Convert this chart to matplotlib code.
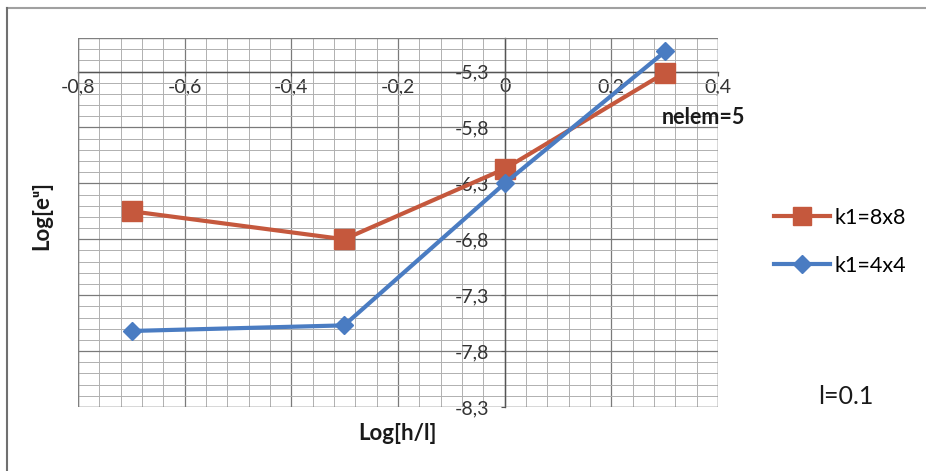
import matplotlib
matplotlib.use("Agg")
import matplotlib.pyplot as plt
from matplotlib.ticker import MultipleLocator, FixedLocator
from matplotlib.lines import Line2D
from matplotlib.patches import Rectangle

log_h_l = [-0.699, -0.301, 0.0, 0.301]
k1_8x8 = [-6.55, -6.80, -6.17, -5.31]
k1_4x4 = [-7.62, -7.57, -6.30, -5.12]
x_ticks = [-0.8, -0.6, -0.4, -0.2, 0.0, 0.2, 0.4]
x_tick_labels = ["-0,8", "-0,6", "-0,4", "-0,2", "0", "0,2", "0,4"]
y_ticks = [-5.3, -5.8, -6.3, -6.8, -7.3, -7.8, -8.3]
y_tick_labels = ["-5,3", "-5,8", "-6,3", "-6,8", "-7,3", "-7,8", "-8,3"]

RED = "#C5583D"
BLUE = "#4A7CC2"
FAM = ["Lato", "DejaVu Sans"]
plt.rcParams['font.family'] = FAM

fig = plt.figure(figsize=(9.26, 4.71), dpi=100)
ax = fig.add_axes([78/926, 1-407/471, (718-78)/926, (407-38)/471])
ax.set_xlim(-0.8, 0.4)
ax.set_ylim(-8.3, -5.0)

# grid
ax.xaxis.set_minor_locator(MultipleLocator(0.04))
ax.yaxis.set_minor_locator(MultipleLocator(0.1))
ax.xaxis.set_major_locator(FixedLocator(x_ticks))
ax.yaxis.set_major_locator(FixedLocator(y_ticks))
ax.grid(which='major', color='#7a7a7a', linewidth=0.9)
ax.grid(which='minor', color='#b0b0b0', linewidth=0.7)
ax.set_axisbelow(True)

# axes crossing
ax.spines['left'].set_position(('data', 0))
ax.spines['bottom'].set_position(('data', -5.3))
for s in ['top', 'right']:
    ax.spines[s].set_visible(False)
for s in ['left', 'bottom']:
    ax.spines[s].set_color('#555555')
    ax.spines[s].set_linewidth(1.0)
ax.add_patch(Rectangle((0, 0), 1, 1, transform=ax.transAxes, fill=False,
                       edgecolor='#808080', linewidth=1.0, zorder=3))

ax.set_xticks(x_ticks)
ax.set_xticklabels(x_tick_labels)
ax.set_yticks(y_ticks)
ax.set_yticklabels(y_tick_labels)
ax.tick_params(axis='both', which='major', length=3, color='#555555',
               labelsize=14, labelcolor='#333333', direction='out')
ax.tick_params(axis='y', pad=8)
ax.tick_params(axis='x', pad=2)
ax.tick_params(which='minor', length=0)

ax.plot(log_h_l, k1_8x8, color=RED, linewidth=3, marker='s', markersize=14,
        label='k1=8x8', zorder=4)
ax.plot(log_h_l, k1_4x4, color=BLUE, linewidth=3, marker='D', markersize=9,
        label='k1=4x4', zorder=5)

# texts
fig.text(703/926, 1-117/471, 'nelem=5', fontsize=15.5, fontweight='bold',
         ha='center', va='center', color='#1a1a1a')
fig.text(398/926, 1-433/471, 'Log[h/l]', fontsize=16, fontweight='bold',
         ha='center', va='center', color='#1a1a1a')
fig.text(42/926, 1-215/471, 'Log[e\u1d58]', fontsize=16, fontweight='bold',
         rotation=90, ha='center', va='center', color='#1a1a1a')
fig.text(846/926, 1-397/471, 'l=0.1', fontsize=18, ha='center', va='center',
         color='#1a1a1a')

handles = [Line2D([], [], color=RED, linewidth=3, marker='s', markersize=13),
           Line2D([], [], color=BLUE, linewidth=3, marker='D', markersize=9)]
fig.legend(handles, ['k1=8x8', 'k1=4x4'], loc='center left',
           bbox_to_anchor=(755/926, 1-242/471), frameon=False, fontsize=15.5,
           handlelength=2.6, handletextpad=0.2, labelspacing=1.3)

# outer chart border (top and left visible)
fig.add_artist(Line2D([7/926, 1], [1-8/471, 1-8/471], transform=fig.transFigure,
                      color='#a0a0a0', linewidth=1.5))
fig.add_artist(Line2D([7/926, 7/926], [0, 1-8/471], transform=fig.transFigure,
                      color='#707070', linewidth=1.5))

fig.savefig('out.png', dpi=100)
